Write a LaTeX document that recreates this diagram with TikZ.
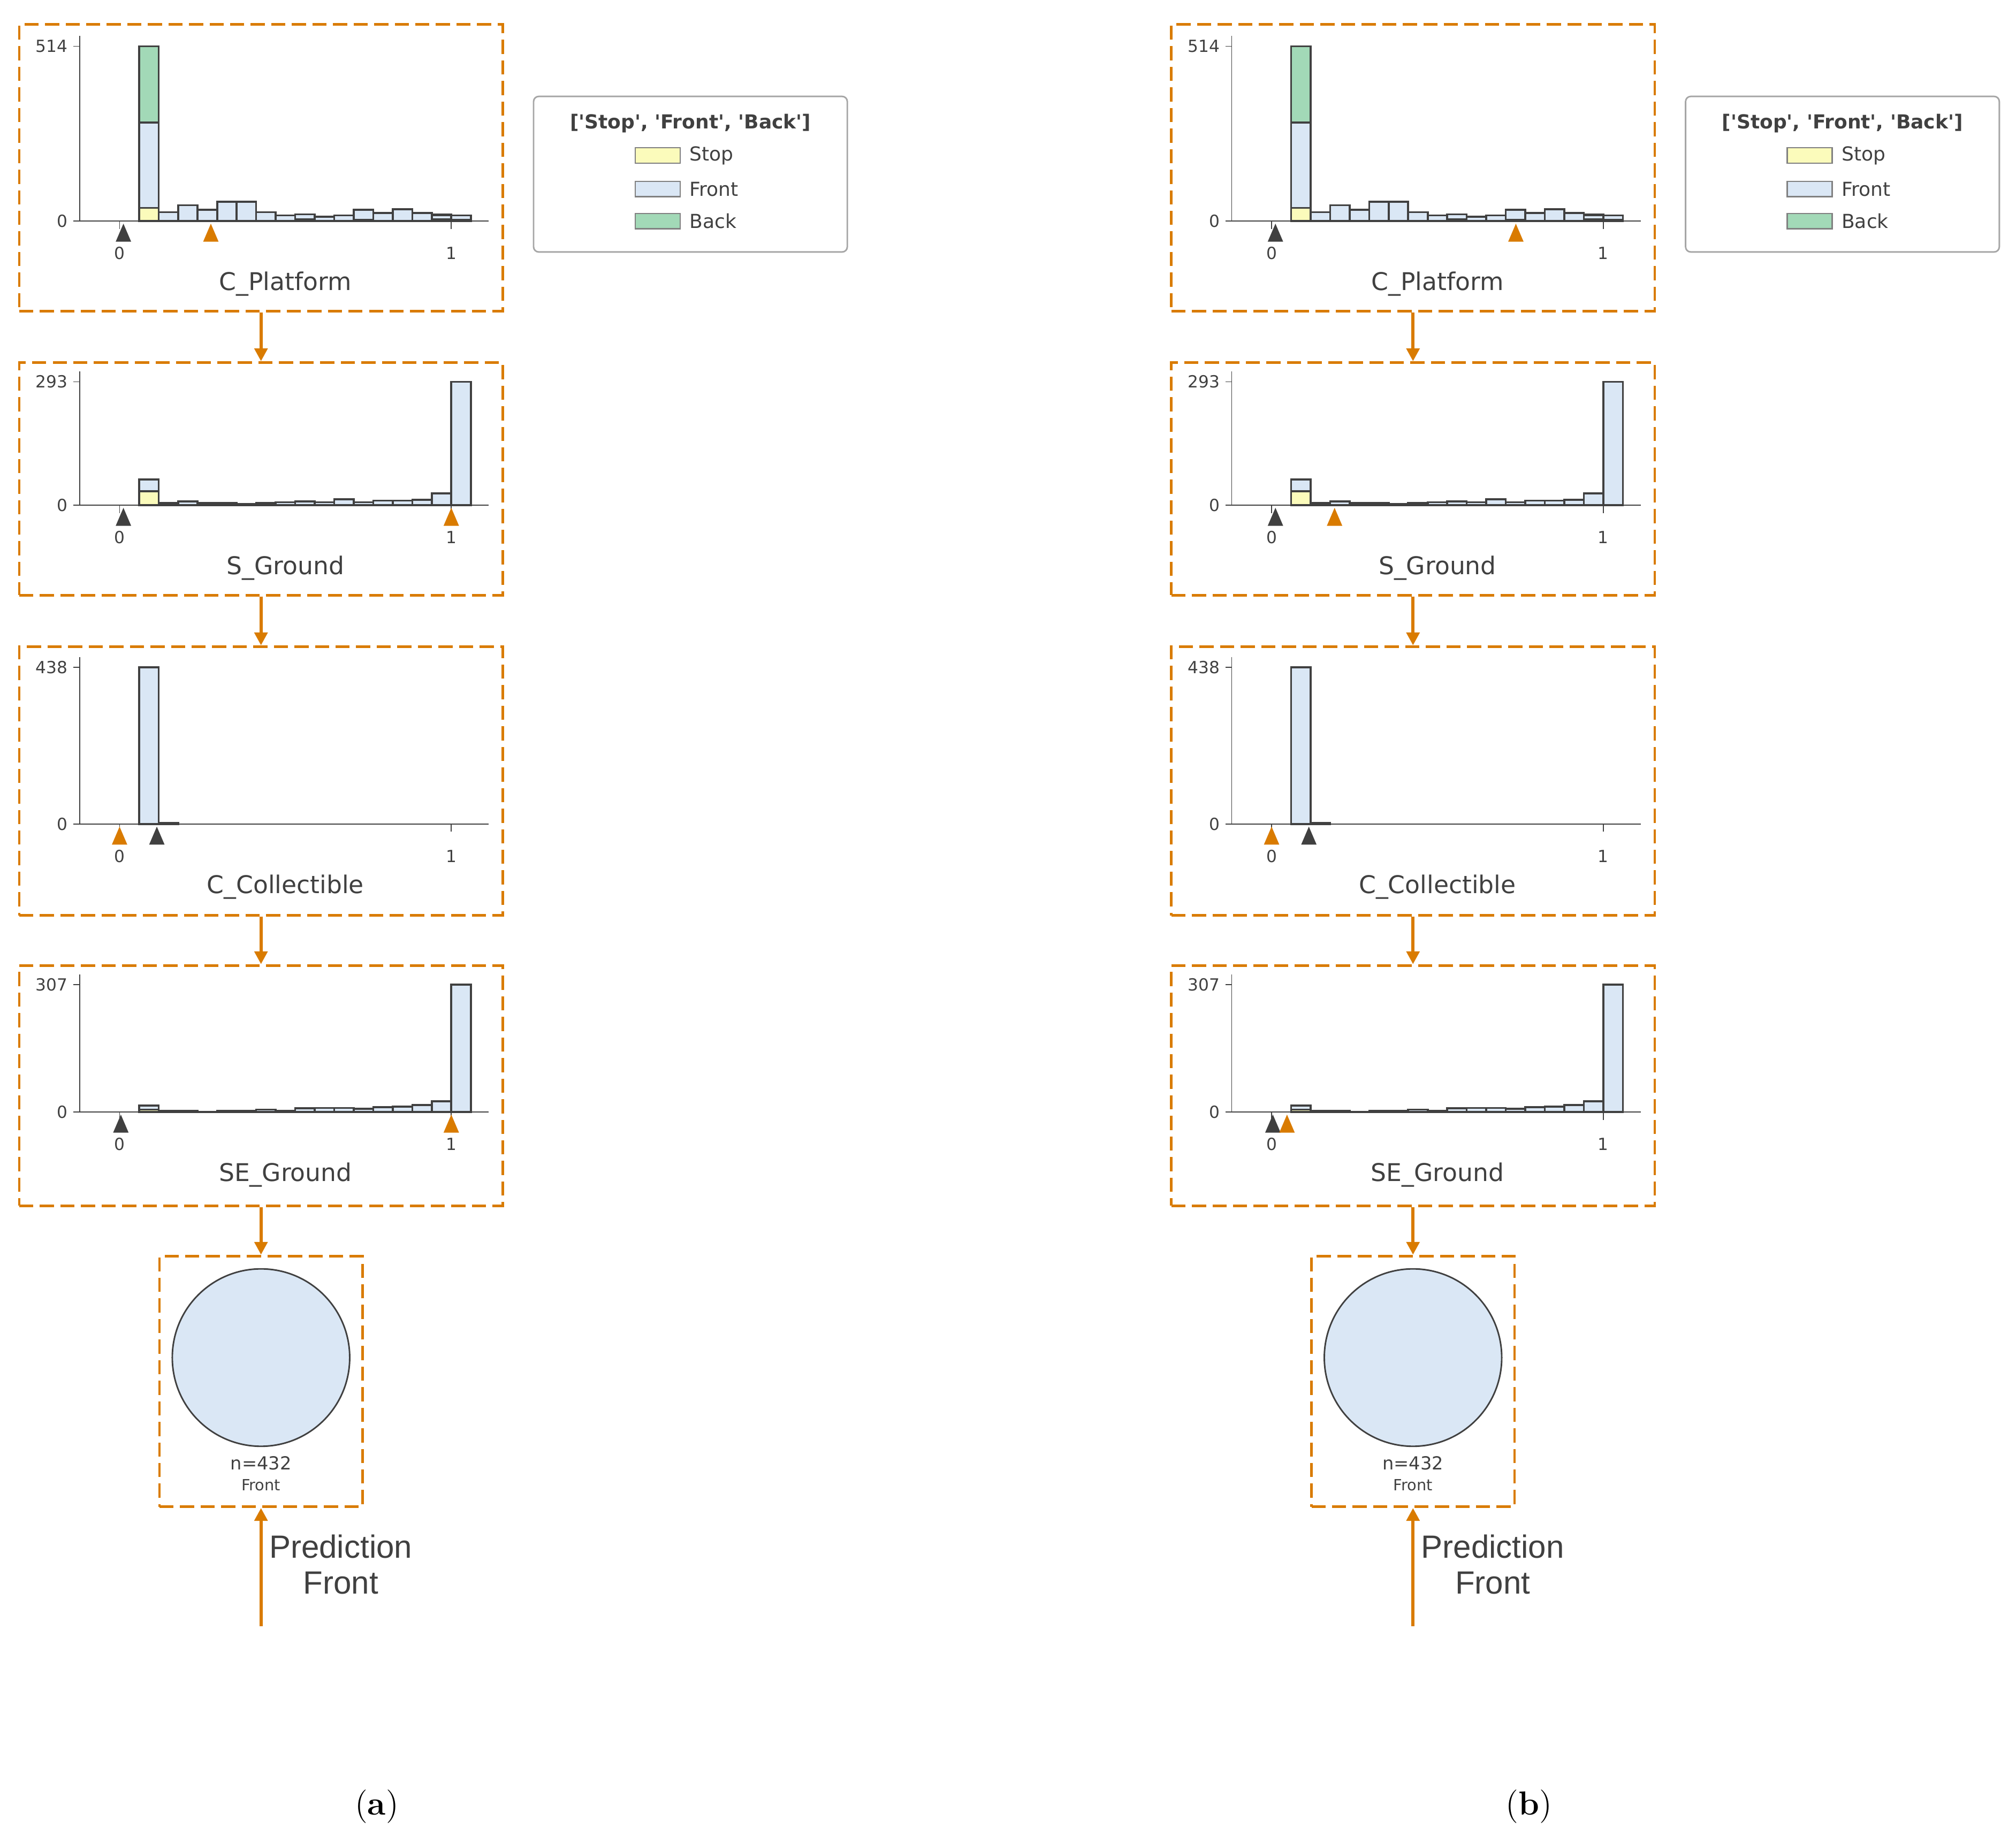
\documentclass[tikz,border=0pt]{standalone}
\usepackage{fontspec}
\newfontfamily\dvs{DejaVu Sans}
\newfontfamily\lsans{Liberation Sans}
\definecolor{org}{RGB}{217,123,0}
\definecolor{ink}{RGB}{64,64,64}
\definecolor{cstop}{RGB}{251,251,187}
\definecolor{cfront}{RGB}{218,231,245}
\definecolor{cback}{RGB}{162,217,183}
\tikzset{
  box/.style={draw=org,line width=1pt,dash pattern=on 5.5pt off 2.5pt,inner sep=0pt},
  arr/.style={draw=org,line width=1.3pt,-{Triangle[length=5pt,width=5pt]}},
  bar/.style={draw=ink,line width=0.75pt},
  axis/.style={draw=ink,line width=0.35pt},
  tick/.style={font=\dvs\fontsize{6.5}{7}\selectfont,text=ink,inner sep=1pt},
  ttl/.style={font=\dvs\fontsize{9.5}{11}\selectfont,text=ink},
  lg/.style={font=\dvs\fontsize{7.5}{9}\selectfont,text=ink,anchor=west,inner sep=0pt},
}
\usetikzlibrary{arrows.meta}
% #1 zero y, #2 max y, #3 max count, #4 list stop/front/back
\newcommand\hist[5]{%
 \pgfmathsetmacro\sc{(#1-#2)/#3}%
 \foreach \s/\f/\b [count=\i] in {#4}{%
   \pgfmathsetmacro\xl{93+(\i-1)*15.176}%
   \pgfmathsetmacro\xr{\xl+15.176}%
   \pgfmathsetmacro\ya{#1-\s*\sc}%
   \pgfmathsetmacro\yb{\ya-\f*\sc}%
   \pgfmathsetmacro\yc{\yb-\b*\sc}%
   \ifdim\s pt>0pt \draw[bar,fill=cstop] (\xl,#1) rectangle (\xr,\ya);\fi
   \ifdim\f pt>0pt \draw[bar,fill=cfront] (\xl,\ya) rectangle (\xr,\yb);\fi
   \ifdim\b pt>0pt \draw[bar,fill=cback] (\xl,\yb) rectangle (\xr,\yc);\fi
 }%
 \draw[axis] (62,#2-8) -- (62,#1) -- (380,#1);
 \draw[axis] (57,#2) -- (62,#2) (57,#1) -- (62,#1) (351,#1) -- (351,#1+6) (93,#1) -- (93,#1+6);
 \node[tick,anchor=east] at (55,#2) {#3};
 \node[tick,anchor=east] at (55,#1) {0};
 \node[tick] at (93,#1+25) {0};
 \node[tick] at (351,#1+25) {1};
 \node[ttl] at (222,#1+49) {#5};
}
\newcommand\tri[3]{\fill[#3] (#1-6,#2+16) -- (#1,#2+2) -- (#1+6,#2+16) -- cycle;}
\begin{document}
\begin{tikzpicture}[x=0.5pt,y=-0.5pt]
\useasboundingbox (0,0) rectangle (1568,1428);
\foreach \sfx/\xs/\oa/\ob/\oc in {a/0/164/351/351, b/448/283/142/105}{
\begin{scope}[xshift=\xs pt]
 \node[box,minimum width=188pt,minimum height=111.5pt] (b1\sfx) at (203,130.5) {};
 \node[box,minimum width=188pt,minimum height=90.5pt] (b2\sfx) at (203,372.5) {};
 \node[box,minimum width=188pt,minimum height=104.5pt] (b3\sfx) at (203,607.5) {};
 \node[box,minimum width=188pt,minimum height=93.5pt] (b4\sfx) at (203,844.5) {};
 \node[box,minimum width=79pt,minimum height=97.5pt] (leaf\sfx) at (203,1074.5) {};
 \node[circle,draw=ink,line width=0.6pt,fill=cfront,minimum size=69pt,inner sep=0pt] (c\sfx) at (203,1056) {};
 \node[font=\dvs\fontsize{7}{8}\selectfont,text=ink] (n\sfx) at (203,1138) {n=432};
 \node[font=\dvs\fontsize{6}{7}\selectfont,text=ink] (f\sfx) at (203,1155) {Front};
 \hist{172}{36}{514}{0/0/0,39/251/224,0/26/0,0/47/0,0/33/0,0/57/0,0/57/0,0/26/0,0/17/0,6/14/0,0/13/0,0/17/0,4/29/0,0/24/0,0/35/0,0/24/0,5/12/3,4/13/0}{C\_Platform}
 \hist{393}{297}{293}{0/0/0,33/28/0,0/5/0,0/9/0,0/5/0,0/5/0,0/3/0,0/5/0,0/7/0,0/9/0,0/7/0,0/14/0,0/7/0,0/11/0,0/11/0,0/13/0,0/28/0,0/293/0}{S\_Ground}
 \hist{641}{519}{438}{0/0/0,0/438/0,0/3/0,0/0/0,0/0/0,0/0/0,0/0/0,0/0/0,0/0/0,0/0/0,0/0/0,0/0/0,0/0/0,0/0/0,0/0/0,0/0/0,0/0/0,0/0/0}{C\_Collectible}
 \hist{865}{766}{307}{0/0/0,6/10/0,0/3/0,0/3/0,0/1/0,0/3/0,0/3/0,0/6/0,0/3/0,0/9/0,0/10/0,0/10/0,0/8/0,0/12/0,0/13/0,0/17/0,0/26/0,0/307/0}{SE\_Ground}
 \tri{96}{172}{ink}\tri{\oa}{172}{org}
 \tri{96}{393}{ink}\tri{\ob}{393}{org}
 \tri{93}{641}{org}\tri{122}{641}{ink}
 \tri{94}{865}{ink}\tri{\oc}{865}{org}
 \draw[arr] (b1\sfx.south) -- (b2\sfx.north);
 \draw[arr] (b2\sfx.south) -- (b3\sfx.north);
 \draw[arr] (b3\sfx.south) -- (b4\sfx.north);
 \draw[arr] (b4\sfx.south) -- (leaf\sfx.north);
 \coordinate (p\sfx) at (203,1265);
 \draw[arr] (p\sfx) -- (leaf\sfx.south);
 \node[font=\lsans\fontsize{12.5}{14}\selectfont,text=ink,align=center] (pr\sfx) at (265,1217) {Prediction\\Front};
 \draw[draw=gray!70,line width=0.6pt,rounded corners=2pt] (415,75) rectangle (659,196);
 \node[font=\dvs\bfseries\fontsize{7.5}{9}\selectfont,text=ink] (lt\sfx) at (537,96) {['Stop', 'Front', 'Back']};
 \draw[draw=gray,line width=0.5pt,fill=cstop] (494,115) rectangle (529,127);
 \draw[draw=gray,line width=0.5pt,fill=cfront] (494,141) rectangle (529,153);
 \draw[draw=gray,line width=0.5pt,fill=cback] (494,166) rectangle (529,178);
 \node[lg] at (536,121) {Stop};
 \node[lg] at (536,147) {Front};
 \node[lg] at (536,172) {Back};
\end{scope}}
\node[font=\fontsize{13}{15}\selectfont] (capa) at (293,1405) {(\textbf{a})};
\node[font=\fontsize{13}{15}\selectfont] (capb) at (1189,1405) {(\textbf{b})};
\end{tikzpicture}
\end{document}
